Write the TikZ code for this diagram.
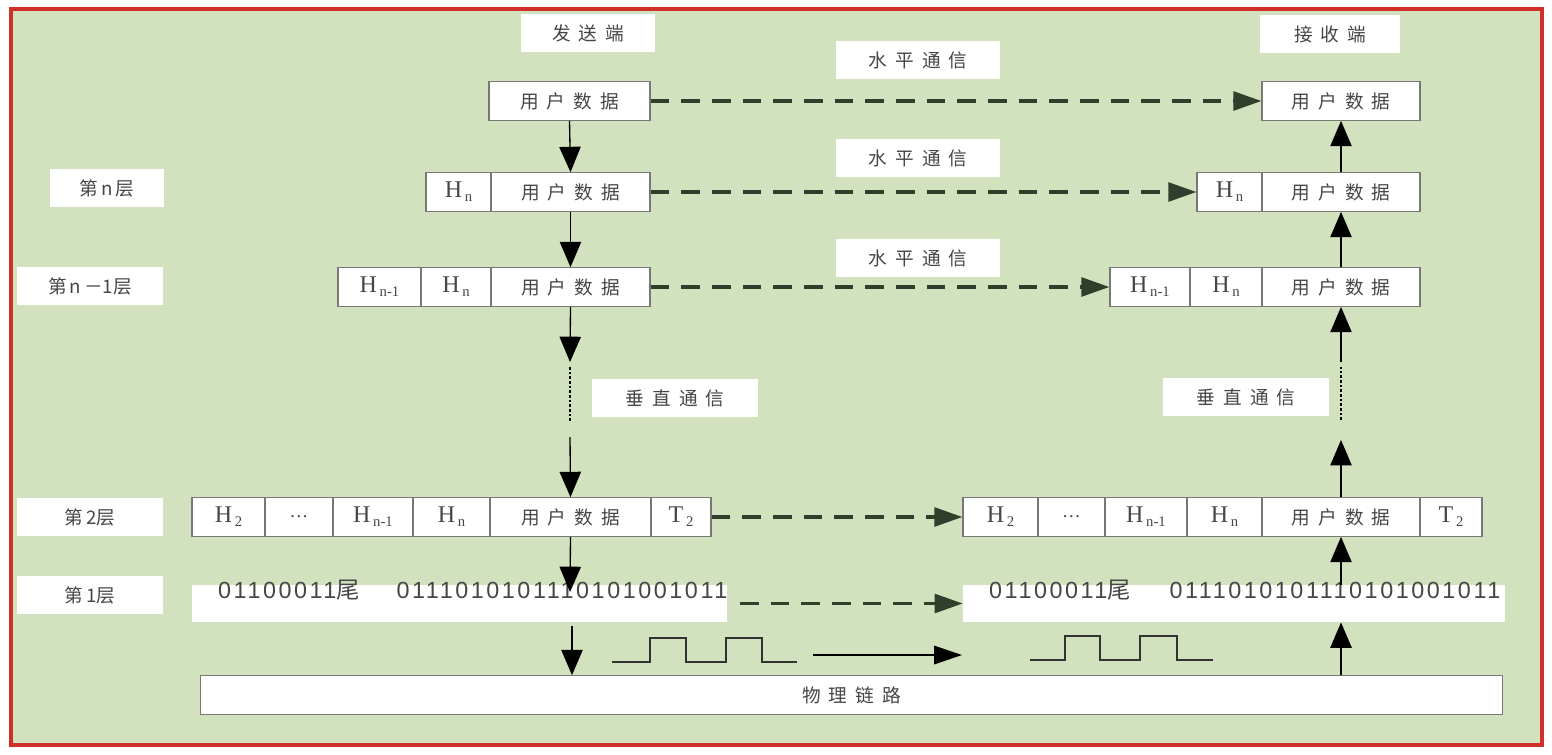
\documentclass[tikz,border=0pt]{standalone}
\usepackage{fontspec}
\usepackage{xcolor}
\usepackage{tikz}
\usetikzlibrary{arrows.meta, positioning}
\newfontfamily\cjk{Noto Sans CJK SC}
\newfontfamily\bitfont[LetterSpace=11]{Liberation Sans}
\newfontfamily\hfont{Liberation Serif}
\definecolor{bggreen}{RGB}{210,225,190}
\definecolor{framered}{RGB}{208,48,40}
\definecolor{txtgray}{RGB}{70,70,70}
\definecolor{cellgray}{RGB}{120,120,120}
\definecolor{dashdark}{RGB}{50,62,44}
\newcommand{\gp}{\hspace{6pt}}
\newcommand{\ud}{用\gp 户\gp 数\gp 据}
\newcommand{\hsub}[2]{{\hfont\fontsize{18}{18}\selectfont #1\hspace{2pt}\raisebox{-3pt}{\fontsize{11}{11}\selectfont #2}}}
\newcommand{\pdu}[5]{\node[cellbox, minimum width={(#3-#2)*0.75pt}] (#1) at ({(#2+#3)/2},#4) {#5};}
\tikzset{
  cellbox/.style={rectangle, draw=cellgray, fill=white, line width=0.8pt,
    minimum height=29pt, inner sep=0pt, text=txtgray,
    font=\cjk\fontsize{14}{14}\selectfont},
  tag/.style={rectangle, fill=white, minimum height=29pt, inner sep=0pt,
    text=txtgray, font=\cjk\fontsize{14}{14}\selectfont},
  bitbox/.style={rectangle, fill=white, minimum height=28pt, inner sep=0pt},
  bits/.style={inner sep=0pt, text=txtgray, font=\bitfont\fontsize{17.5}{17.5}\selectfont},
  varrow/.style={-{Triangle[length=19pt,width=16pt]}, line width=1pt, color=black},
  harrow/.style={-{Triangle[length=21pt,width=14pt]}, line width=2.6pt, color=dashdark,
    dash pattern=on 14pt off 9pt},
  sarrow/.style={-{Triangle[length=21pt,width=14pt]}, line width=1pt, color=black},
  dotline/.style={line width=2pt, color=black, dash pattern=on 2pt off 1.5pt},
  wave/.style={line width=1.4pt, color=black!80}
}
\begin{document}
\begin{tikzpicture}[x=0.75pt, y=-0.75pt]
  \useasboundingbox (0,0) rectangle (1552,754);
  % Frame
  \fill[white] (0,0) rectangle (1552,754);
  \draw[framered, line width=2.5pt, fill=bggreen] (11,9) rectangle (1542,745);

  % Headings
  \node[tag, minimum width=100pt] (send) at (588,33) {发\gp 送\gp 端};
  \node[tag, minimum width=105pt] (recv) at (1330,34) {接\gp 收\gp 端};
  \node[tag, minimum width=123pt] (hor1) at (918,60) {水\gp 平\gp 通\gp 信};
  \node[tag, minimum width=123pt] (hor2) at (918,158) {水\gp 平\gp 通\gp 信};
  \node[tag, minimum width=123pt] (hor3) at (918,258) {水\gp 平\gp 通\gp 信};
  \node[tag, minimum width=125pt] (vers) at (675,398) {垂\gp 直\gp 通\gp 信};
  \node[tag, minimum width=125pt] (verr) at (1246,397) {垂\gp 直\gp 通\gp 信};

  % Layer names
  \node[tag, minimum width=85pt] (layn) at (107,188) {第\,n\,层};
  \node[tag, minimum width=109pt] (layn1) at (90,286) {第\,n\,－1层};
  \node[tag, minimum width=109pt] (lay2) at (90,517) {第\,2层};
  \node[tag, minimum width=109pt] (lay1) at (90,595) {第\,1层};

  % Sender side
  \pdu{s1}{489}{650}{101}{\ud}
  \pdu{s2hn}{426}{491}{192}{\hsub{H}{n}}
  \pdu{s2ud}{491}{650}{192}{\ud}
  \pdu{s3hn1}{338}{421}{287}{\hsub{H}{n-1}}
  \pdu{s3hn}{421}{491}{287}{\hsub{H}{n}}
  \pdu{s3ud}{491}{650}{287}{\ud}
  \pdu{s4h2}{192}{265}{517}{\hsub{H}{2}}
  \pdu{s4dots}{265}{333}{517}{{\hfont\fontsize{14}{14}\selectfont\dots}}
  \pdu{s4hn1}{333}{413}{517}{\hsub{H}{n-1}}
  \pdu{s4hn}{413}{490}{517}{\hsub{H}{n}}
  \pdu{s4ud}{490}{651}{517}{\ud}
  \pdu{s4t2}{651}{711}{517}{\hsub{T}{2}}
  \node[bitbox, minimum width=401pt] (s5) at (459.5,603.5) {};
  \node[bits] (s5a) at (289,590) {01100011{\cjk 尾}};
  \node[bits] (s5b) at (562,590) {0111010101110101001011};

  % Receiver side
  \pdu{r1}{1262}{1420}{101}{\ud}
  \pdu{r2hn}{1197}{1262}{192}{\hsub{H}{n}}
  \pdu{r2ud}{1262}{1420}{192}{\ud}
  \pdu{r3hn1}{1110}{1190}{287}{\hsub{H}{n-1}}
  \pdu{r3hn}{1190}{1262}{287}{\hsub{H}{n}}
  \pdu{r3ud}{1262}{1420}{287}{\ud}
  \pdu{r4h2}{963}{1038}{517}{\hsub{H}{2}}
  \pdu{r4dots}{1038}{1105}{517}{{\hfont\fontsize{14}{14}\selectfont\dots}}
  \pdu{r4hn1}{1105}{1187}{517}{\hsub{H}{n-1}}
  \pdu{r4hn}{1187}{1262}{517}{\hsub{H}{n}}
  \pdu{r4ud}{1262}{1420}{517}{\ud}
  \pdu{r4t2}{1420}{1482}{517}{\hsub{T}{2}}
  \node[bitbox, minimum width=406.5pt] (r5) at (1234,603.5) {};
  \node[bits] (r5a) at (1060,590) {01100011{\cjk 尾}};
  \node[bits] (r5b) at (1335,590) {0111010101110101001011};

  % Physical link
  \node[cellbox, minimum width=977pt] (phys) at (851.5,695) {物\gp 理\gp 链\gp 路};

  % Vertical communication, sender
  \coordinate (sv1) at (570,362);
  \coordinate (sv2) at (570,367);
  \coordinate (sv3) at (570,422);
  \coordinate (sv4) at (570,437);
  \coordinate (sv5) at (570,592);
  \coordinate (sv6) at (572,626);
  \draw[varrow] (s1.south) -- (s2ud.north);
  \draw[varrow] (s2ud.south) -- (s3ud.north);
  \draw[varrow] (s3ud.south) -- (sv1);
  \draw[dotline] (sv2) -- (sv3);
  \draw[varrow] (sv4) -- (s4ud.north);
  \draw[varrow] (s4ud.south) -- (sv5);
  \draw[varrow] (sv6) -- (phys.north -| sv6);

  % Vertical communication, receiver
  \coordinate (rv1) at (1341,362);
  \coordinate (rv2) at (1341,367);
  \coordinate (rv3) at (1341,420);
  \coordinate (rv4) at (1341,440);
  \draw[varrow] (phys.north -| rv1) -- (r5.south -| rv1);
  \draw[varrow] (r5.north -| rv1) -- (r4ud.south);
  \draw[varrow] (r4ud.north) -- (rv4);
  \draw[dotline] (rv3) -- (rv2);
  \draw[varrow] (rv1) -- (r3ud.south);
  \draw[varrow] (r3ud.north) -- (r2ud.south);
  \draw[varrow] (r2ud.north) -- (r1.south);

  % Horizontal communication
  \draw[harrow] (s1.east) -- (r1.west);
  \draw[harrow] (s2ud.east) -- (r2hn.west);
  \draw[harrow] (s3ud.east) -- (r3hn1.west);
  \draw[harrow] (s4t2.east) -- (r4h2.west);
  \coordinate (d5) at (740,603.5);
  \draw[harrow] (d5) -- (r5.west);

  % Signals on the link
  \draw[wave] (612,662) -| (650,638) -| (686,662) -| (726,638) -| (762,662) -- (797,662);
  \draw[wave] (1030,660) -| (1065,636) -| (1100,660) -| (1140,636) -| (1177,660) -- (1213,660);
  \coordinate (wl) at (813,655);
  \coordinate (wr) at (962,655);
  \draw[sarrow] (wl) -- (wr);
\end{tikzpicture}
\end{document}
